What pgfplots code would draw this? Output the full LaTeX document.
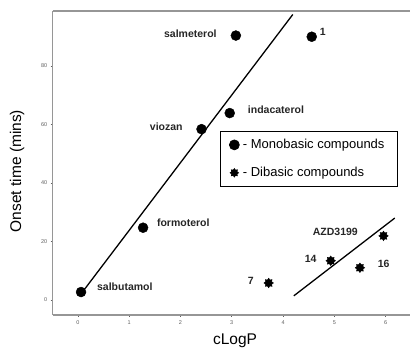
\documentclass[border=0pt]{standalone}
\usepackage{fontspec}
\setmainfont{Liberation Sans}
\usepackage{pgfplots}
\pgfplotsset{compat=1.18}
\definecolor{axgray}{RGB}{150,150,150}
\definecolor{tickgray}{RGB}{95,95,95}
\pgfdeclareplotmark{burst}{%
  \pgfpathmoveto{\pgfpointpolar{0}{\pgfplotmarksize}}%
  \pgfpathlineto{\pgfpointpolar{22.5}{0.68\pgfplotmarksize}}%
  \pgfpathlineto{\pgfpointpolar{45}{\pgfplotmarksize}}%
  \pgfpathlineto{\pgfpointpolar{67.5}{0.68\pgfplotmarksize}}%
  \pgfpathlineto{\pgfpointpolar{90}{\pgfplotmarksize}}%
  \pgfpathlineto{\pgfpointpolar{112.5}{0.68\pgfplotmarksize}}%
  \pgfpathlineto{\pgfpointpolar{135}{\pgfplotmarksize}}%
  \pgfpathlineto{\pgfpointpolar{157.5}{0.68\pgfplotmarksize}}%
  \pgfpathlineto{\pgfpointpolar{180}{\pgfplotmarksize}}%
  \pgfpathlineto{\pgfpointpolar{202.5}{0.68\pgfplotmarksize}}%
  \pgfpathlineto{\pgfpointpolar{225}{\pgfplotmarksize}}%
  \pgfpathlineto{\pgfpointpolar{247.5}{0.68\pgfplotmarksize}}%
  \pgfpathlineto{\pgfpointpolar{270}{\pgfplotmarksize}}%
  \pgfpathlineto{\pgfpointpolar{292.5}{0.68\pgfplotmarksize}}%
  \pgfpathlineto{\pgfpointpolar{315}{\pgfplotmarksize}}%
  \pgfpathlineto{\pgfpointpolar{337.5}{0.68\pgfplotmarksize}}%
  \pgfpathclose
  \pgfusepathqfillstroke}
\pgfplotsset{
  singlemark/.style={legend image code/.code={\path (-4pt,0pt); \draw[##1] plot coordinates {(0pt,0pt)};}},
  singlemarksmall/.style={legend image code/.code={\path (-4pt,0pt); \draw[##1, mark size=4.2pt] plot coordinates {(0pt,0pt)};}},
}
\tikzset{lbl/.style={font=\bfseries\fontsize{10.5}{12}\selectfont, inner sep=0pt, text=black!85}}
\begin{document}
\begin{tikzpicture}
\useasboundingbox (-52.7pt,-33pt) rectangle (357.3pt,315pt);
\begin{axis}[
  scale only axis, width=358.5pt, height=304pt,
  xmin=-0.493, xmax=6.5, ymin=-5.15, ymax=98.8,
  axis x line*=bottom, axis y line*=left,
  axis line style={axgray, line width=1.2pt, -},
  xtick={0,1,2,3,4,5,6}, ytick={0,20,40,60,80},
  tick align=outside, major tick length=2pt,
  tick style={tickgray, line width=0.6pt},
  tick label style={font=\fontsize{5.5}{6}\selectfont, text=tickgray},
  /pgf/number format/assume math mode=true,
  clip=false,
  legend cell align=left,
  legend style={at={(rel axis cs:0.4667,0.605)}, anchor=north west,
    draw=black, line width=0.7pt, font=\fontsize{13}{15}\selectfont,
    inner xsep=9pt, inner ysep=8pt, row sep=17pt,
    nodes={inner xsep=3.5pt, inner ysep=0pt}},
]
\draw[axgray, line width=1.2pt] (rel axis cs:0,1) -- (rel axis cs:1,1);
\addplot[black, line width=1.3pt, forget plot] coordinates {(0.1,3.0) (4.19,97.6)};
\addplot[black, line width=1.3pt, forget plot] coordinates {(4.21,1.4) (6.18,28.0)};
\addplot[only marks, mark=*, mark size=5pt, black, singlemark]
  coordinates {(0.06,2.7) (1.27,24.7) (2.41,58.4) (2.96,63.9) (3.08,90.4) (4.56,90.0)};
\addlegendentry{- Monobasic compounds}
\addplot[only marks, mark=burst, mark size=4.8pt, black, singlemarksmall]
  coordinates {(3.72,5.8) (4.93,13.4) (5.50,11.0) (5.96,21.9)};
\addlegendentry{- Dibasic compounds}
\node[lbl, anchor=east] at (axis cs:2.708,90.9) {salmeterol};
\node[lbl, anchor=west] at (axis cs:4.715,91.6) {1};
\node[lbl, anchor=west] at (axis cs:3.312,65.0) {indacaterol};
\node[lbl, anchor=east] at (axis cs:2.045,59.1) {viozan};
\node[lbl, anchor=west] at (axis cs:1.539,26.3) {formoterol};
\node[lbl, anchor=west] at (axis cs:0.370,4.4) {salbutamol};
\node[lbl, anchor=west] at (axis cs:4.578,23.2) {AZD3199};
\node[lbl, anchor=west] at (axis cs:4.422,14.0) {14};
\node[lbl, anchor=west] at (axis cs:5.845,12.3) {16};
\node[lbl, anchor=west] at (axis cs:3.312,6.5) {7};
\end{axis}
\node[rotate=90, font=\fontsize{15.5}{18}\selectfont] at (-35.7pt,144pt) {Onset time (mins)};
\node[font=\fontsize{15.5}{18}\selectfont] at (182.3pt,-26pt) {cLogP};
\end{tikzpicture}
\end{document}
